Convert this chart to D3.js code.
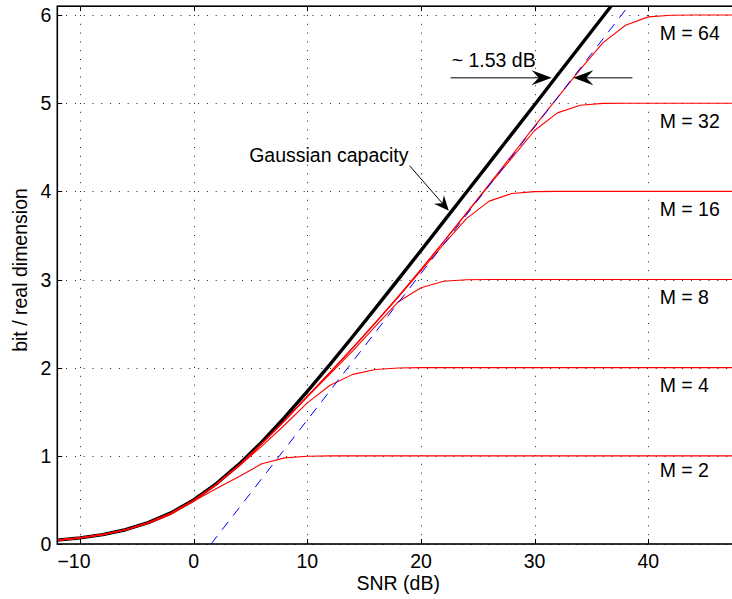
<!DOCTYPE html>
<html>
<head>
<meta charset="utf-8">
<script src="https://cdn.jsdelivr.net/npm/d3@7"></script>
<style>
  html, body { margin: 0; padding: 0; background: #fff; }
  svg { display: block; }
  text { font-family: "Liberation Sans", Arial, Helvetica, sans-serif; }
</style>
</head>
<body>
<svg id="chart" width="732" height="599"></svg>
<script>
// ---------------- data ----------------
const snrDb = [-12,-10,-8,-6,-4,-2,0,2,4,6,8,10,12,14,16,18,20,22,24,26,28,30,32,34,36,38,40,42,44,46,48];

const gaussianCapacity = [0.044,0.069,0.106,0.162,0.242,0.353,0.500,0.685,0.906,1.158,1.435,1.730,2.037,2.354,2.676,3.001,3.329,3.659,3.989,4.320,4.652,4.983,5.316,5.648,5.980,6.312,6.644,6.976,7.308,7.640,7.972];

const pam2  = [0.044,0.068,0.105,0.158,0.233,0.336,0.486,0.630,0.765,0.910,0.977,0.996,1.000,1.000,1.000,1.000,1.000,1.000,1.000,1.000,1.000,1.000,1.000,1.000,1.000,1.000,1.000,1.000,1.000,1.000,1.000];
const pam4  = [0.044,0.069,0.106,0.161,0.240,0.350,0.495,0.676,0.885,1.110,1.350,1.600,1.800,1.924,1.980,1.997,2.000,2.000,2.000,2.000,2.000,2.000,2.000,2.000,2.000,2.000,2.000,2.000,2.000,2.000,2.000];
const pam8  = [0.044,0.069,0.106,0.161,0.240,0.350,0.495,0.678,0.894,1.138,1.400,1.670,1.930,2.190,2.470,2.747,2.906,2.980,2.998,3.000,3.000,3.000,3.000,3.000,3.000,3.000,3.000,3.000,3.000,3.000,3.000];
const pam16 = [0.044,0.069,0.106,0.161,0.240,0.350,0.495,0.678,0.894,1.138,1.400,1.675,1.947,2.224,2.510,2.800,3.100,3.400,3.690,3.889,3.976,3.997,4.000,4.000,4.000,4.000,4.000,4.000,4.000,4.000,4.000];
const pam32 = [0.044,0.069,0.106,0.161,0.240,0.350,0.495,0.678,0.894,1.138,1.400,1.675,1.947,2.224,2.511,2.806,3.112,3.430,3.750,4.070,4.380,4.690,4.890,4.977,4.998,5.000,5.000,5.000,5.000,5.000,5.000];
const pam64 = [0.044,0.069,0.106,0.161,0.240,0.350,0.495,0.678,0.894,1.138,1.400,1.675,1.947,2.224,2.511,2.806,3.114,3.431,3.753,4.080,4.409,4.740,5.060,5.380,5.684,5.884,5.979,5.998,6.000,6.000,6.000];

const pamSeries = [pam2, pam4, pam8, pam16, pam32, pam64];
const pamLabels = ["M = 2", "M = 4", "M = 8", "M = 16", "M = 32", "M = 64"];
const pamLabelY = [0.76, 1.72, 2.72, 3.72, 4.72, 5.72];
const pamLabelX = 41;

// shaping-gap asymptote (1.53 dB shift)
const asymptoteSnr = [1.53, 48];
const asymptoteBits = [0, 7.72];

const xTicks = [-10, 0, 10, 20, 30, 40];
const yTicks = [0, 1, 2, 3, 4, 5, 6];

// ---------------- layout ----------------
const svg = d3.select("#chart");
const pL = 57.3, pR = 739.2, pT = 6.2, pB = 544;
const x = d3.scaleLinear().domain([-12, 48]).range([pL, pR]);
const y = d3.scaleLinear().domain([0, 6.1]).range([pB, pT]);
const FONT = 19.5;

svg.append("rect").attr("width", 732).attr("height", 599).attr("fill", "#fff");

svg.append("defs").append("clipPath").attr("id", "plotclip")
  .append("rect").attr("x", pL).attr("y", pT)
  .attr("width", pR - pL).attr("height", pB - pT);

// grid
const grid = svg.append("g").attr("stroke", "#222").attr("stroke-width", 1)
  .attr("stroke-dasharray", "1,7.8").attr("fill", "none");
xTicks.forEach(t => grid.append("line")
  .attr("x1", Math.round(x(t)) + 0.5).attr("x2", Math.round(x(t)) + 0.5)
  .attr("y1", pB).attr("y2", pT));
yTicks.forEach(t => grid.append("line")
  .attr("y1", Math.round(y(t)) + 0.5).attr("y2", Math.round(y(t)) + 0.5)
  .attr("x1", pL).attr("x2", pR));

// curves
const plot = svg.append("g").attr("clip-path", "url(#plotclip)");
const line = d3.line().x(d => x(d[0])).y(d => y(d[1]));

plot.append("path")
  .attr("d", line(snrDb.map((s, i) => [s, gaussianCapacity[i]])))
  .attr("fill", "none").attr("stroke", "#000").attr("stroke-width", 3.4)
  .attr("stroke-linejoin", "round");

pamSeries.forEach(series => {
  plot.append("path")
    .attr("d", line(snrDb.map((s, i) => [s, series[i]])))
    .attr("fill", "none").attr("stroke", "#ff0000").attr("stroke-width", 1.1)
    .attr("stroke-linejoin", "round");
});

plot.append("path")
  .attr("d", line(asymptoteSnr.map((s, i) => [s, asymptoteBits[i]])))
  .attr("fill", "none").attr("stroke", "#0000ff").attr("stroke-width", 1)
  .attr("stroke-dasharray", "10,8");

// axes box
const axes = svg.append("g");
axes.append("rect").attr("x", pL).attr("y", pT)
  .attr("width", pR - pL).attr("height", pB - pT)
  .attr("fill", "none").attr("stroke", "#000").attr("stroke-width", 1.6);

// ticks (inward) on bottom, top, left
const tk = 5;
xTicks.forEach(t => {
  const px = Math.round(x(t)) + 0.5;
  axes.append("line").attr("x1", px).attr("x2", px).attr("y1", pB).attr("y2", pB - tk).attr("stroke", "#000");
  axes.append("line").attr("x1", px).attr("x2", px).attr("y1", pT).attr("y2", pT + tk).attr("stroke", "#000");
  axes.append("text").attr("x", x(t) + (t < 0 ? -6 : 0)).attr("y", pB + 24)
    .attr("text-anchor", "middle").attr("font-size", FONT)
    .text(t < 0 ? "\u2212" + Math.abs(t) : String(t));
});
yTicks.forEach(t => {
  const py = Math.round(y(t)) + 0.5;
  axes.append("line").attr("x1", pL).attr("x2", pL + tk).attr("y1", py).attr("y2", py).attr("stroke", "#000");
  axes.append("text").attr("x", pL - 6).attr("y", y(t)).attr("dy", "0.36em")
    .attr("text-anchor", "end").attr("font-size", FONT).text(String(t));
});

// axis labels
svg.append("text").attr("x", (pL + pR) / 2).attr("y", 590)
  .attr("text-anchor", "middle").attr("font-size", FONT).text("SNR (dB)");
svg.append("text").attr("transform", "translate(27.3,270) rotate(-90)")
  .attr("text-anchor", "middle").attr("font-size", FONT).text("bit / real dimension");

// M labels
pamLabels.forEach((lab, i) => {
  svg.append("text").attr("x", x(pamLabelX)).attr("y", y(pamLabelY[i]))
    .attr("font-size", FONT).text(lab);
});

// annotations
function arrowHead(g, tipX, tipY, angle, L, W, notch, color) {
  const pts = [[0, 0], [-L, -W], [-notch, 0], [-L, W]];
  const c = Math.cos(angle), s = Math.sin(angle);
  const p = pts.map(([a, b]) => [tipX + a * c - b * s, tipY + a * s + b * c]);
  g.append("path").attr("d", "M" + p.map(q => q.join(",")).join("L") + "Z")
    .attr("fill", color).attr("stroke", "none");
}
const ann = svg.append("g");

// Gaussian capacity
ann.append("text").attr("x", x(4.88)).attr("y", y(4.33)).attr("font-size", FONT).text("Gaussian capacity");
{
  const x0 = x(19.0), y0 = y(4.29), x1 = x(22.45), y1 = y(3.78);
  const ang = Math.atan2(y1 - y0, x1 - x0);
  ann.append("line").attr("x1", x0).attr("y1", y0)
    .attr("x2", x1 - 8 * Math.cos(ang)).attr("y2", y1 - 8 * Math.sin(ang))
    .attr("stroke", "#000").attr("stroke-width", 1);
  arrowHead(ann, x1, y1, ang, 15, 6.5, 10, "#000");
}

// ~1.53 dB
ann.append("text").attr("x", x(22.7)).attr("y", y(5.415)).attr("font-size", FONT).text("~ 1.53 dB");
{
  const yy = y(5.289);
  const xa0 = x(22.6), xa1 = x(31.5);
  ann.append("line").attr("x1", xa0).attr("x2", xa1 - 10).attr("y1", yy).attr("y2", yy)
    .attr("stroke", "#555").attr("stroke-width", 1.5);
  arrowHead(ann, xa1, yy, 0, 20, 7.5, 13, "#000");
  const xb0 = x(38.6), xb1 = x(33.4);
  ann.append("line").attr("x1", xb0).attr("x2", xb1 + 10).attr("y1", yy).attr("y2", yy)
    .attr("stroke", "#555").attr("stroke-width", 1.5);
  arrowHead(ann, xb1, yy, Math.PI, 20, 7.5, 13, "#000");
}
</script>
</body>
</html>
